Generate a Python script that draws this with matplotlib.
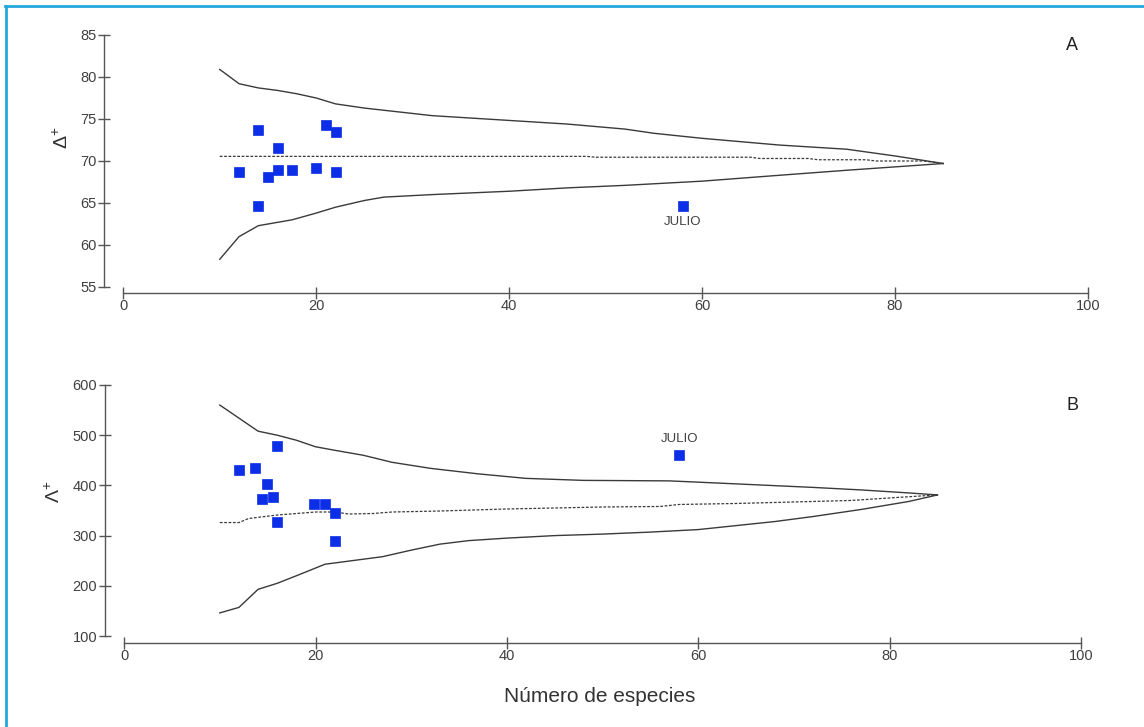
import matplotlib
matplotlib.use('Agg')
import matplotlib.pyplot as plt
from matplotlib.lines import Line2D

plt.rcParams['font.family'] = ['Liberation Sans', 'DejaVu Sans']
plt.rcParams['mathtext.fontset'] = 'custom'
plt.rcParams['mathtext.rm'] = 'Liberation Sans'
plt.rcParams['mathtext.it'] = 'Liberation Sans:italic'
plt.rcParams['mathtext.bf'] = 'Liberation Sans:bold'

# ---------------- data ----------------
x_ticks = [0, 20, 40, 60, 80, 100]
yticks_A = [55, 60, 65, 70, 75, 80, 85]
yticks_B = [100, 200, 300, 400, 500, 600]

# Panel A (Delta+)
ptsA_x = [12, 14, 14, 15, 16, 16, 17.5, 20, 21, 22, 22]
ptsA_y = [68.7, 73.7, 64.6, 68.1, 71.6, 68.9, 68.9, 69.2, 74.3, 73.5, 68.7]
julioA_x = 58
julioA_y = 64.6

upA_x = [10, 12, 14, 16, 18, 20, 22, 25, 32, 39, 46, 52, 55, 60, 68, 75, 80, 85]
upA_y = [80.9, 79.2, 78.7, 78.4, 78.0, 77.5, 76.8, 76.3, 75.4, 74.9, 74.4, 73.8, 73.3, 72.7, 71.9, 71.4, 70.6, 69.7]
loA_x = [10, 12, 14, 16, 17.5, 20, 22, 25, 27, 32, 40, 46, 52, 60, 68, 75, 80, 85]
loA_y = [58.3, 61.0, 62.3, 62.7, 63.0, 63.8, 64.5, 65.3, 65.7, 66.0, 66.4, 66.8, 67.1, 67.6, 68.3, 68.9, 69.3, 69.7]
meA_x = [10, 48, 49, 65, 66, 71, 72, 77, 78, 83, 85]
meA_y = [70.55, 70.55, 70.45, 70.45, 70.3, 70.3, 70.15, 70.15, 70.0, 70.0, 69.7]

# Panel B (Lambda+)
ptsB_x = [12, 13.7, 14.4, 14.9, 15.6, 16, 16, 19.8, 21, 22, 22]
ptsB_y = [430, 435, 372, 402, 377, 478, 327, 362, 362, 345, 290]
julioB_x = 58
julioB_y = 460

upB_x = [10, 12, 14, 16, 18, 20, 22, 25, 28, 32, 37, 42, 48, 57, 64, 72, 77, 82, 85]
upB_y = [560, 534, 508, 500, 490, 477, 470, 460, 446, 434, 423, 414, 410, 409, 403, 396, 391, 385, 381]
loB_x = [10, 12, 14, 16, 18, 21, 23, 27, 30, 33, 36, 40, 45, 50, 55, 60, 64, 68, 72, 77, 82, 85]
loB_y = [146, 157, 193, 205, 220, 243, 248, 258, 271, 283, 290, 295, 300, 303, 307, 312, 320, 328, 338, 352, 368, 381]
meB_x = [10, 12, 13, 16, 20, 22, 23.5, 26, 28, 33, 40, 50, 56, 58, 64, 68, 76, 80, 85]
meB_y = [326, 326, 334, 341, 347, 347, 343, 344, 347, 349, 353, 357, 358, 362, 364, 366, 370, 375, 381]

# ---------------- figure ----------------
W, H = 1144, 727
fig = plt.figure(figsize=(W / 100, H / 100), dpi=100)
fig.patch.set_facecolor('white')


def px_rect(l, r, t, b):
    return [l / W, 1 - b / H, (r - l) / W, (b - t) / H]


axA = fig.add_axes(px_rect(104, 1088, 35, 287))
axB = fig.add_axes(px_rect(105, 1081, 385, 636))

LINE_C = '#3a3a3a'
MARK_C = '#0c2ee6'
AX_C = '#555555'
TXT_C = '#404040'


def draw(ax, ux, uy, lx, ly, mx, my, px, py, jx, jy, joff):
    ax.plot(ux, uy, color=LINE_C, lw=1.0, clip_on=False)
    ax.plot(lx, ly, color=LINE_C, lw=1.0, clip_on=False)
    ax.plot(mx, my, color=LINE_C, lw=0.9, dashes=(2.2, 1.3), clip_on=False)
    ax.plot(px + [jx], py + [jy], ls='none', marker='s', ms=7,
            mfc=MARK_C, mec=MARK_C, mew=0.5, clip_on=False)
    ax.annotate('JULIO', (jx, jy), xytext=(0, joff), textcoords='offset points',
                ha='center', va='center', fontsize=9.5, color=TXT_C)


def style(ax, ylim, yticks, outward):
    ax.set_xlim(-2, 100)
    ax.set_ylim(*ylim)
    ax.patch.set_alpha(0)
    for s in ['top', 'right']:
        ax.spines[s].set_visible(False)
    ax.spines['bottom'].set_position(('outward', outward))
    ax.spines['bottom'].set_bounds(0, 100)
    ax.spines['left'].set_bounds(*ylim)
    for s in ['bottom', 'left']:
        ax.spines[s].set_color(AX_C)
        ax.spines[s].set_linewidth(1.0)
    ax.set_xticks(x_ticks)
    ax.set_yticks(yticks)
    ax.tick_params(direction='inout', length=8, width=1.0, color=AX_C,
                   labelsize=10.5, labelcolor=TXT_C)
    ax.tick_params(axis='x', pad=0.5)
    ax.tick_params(axis='y', pad=1.5)


draw(axA, upA_x, upA_y, loA_x, loA_y, meA_x, meA_y, ptsA_x, ptsA_y,
     julioA_x, julioA_y, -11)
style(axA, (55, 85), yticks_A, 4.3)

draw(axB, upB_x, upB_y, loB_x, loB_y, meB_x, meB_y, ptsB_x, ptsB_y,
     julioB_x, julioB_y, 12)
style(axB, (100, 600), yticks_B, 4.8)

# panel letters
fig.text(1072 / W, 1 - 46 / H, 'A', ha='center', va='center', fontsize=13, color='#202020')
fig.text(1072 / W, 1 - 405 / H, 'B', ha='center', va='center', fontsize=13, color='#202020')

# y labels
fig.text(62 / W, 1 - 138 / H, r'$\Delta^{+}$', rotation=90, ha='center', va='center',
         fontsize=14, color='#303030')
fig.text(54 / W, 1 - 492 / H, r'$\Lambda^{+}$', rotation=90, ha='center', va='center',
         fontsize=14, color='#303030')

# x label
fig.text(600 / W, 1 - 697 / H, 'Número de especies', ha='center', va='center',
         fontsize=15, color='#333333')

# frame border (top and left)
BORDER_C = '#22a8dc'
fig.add_artist(Line2D([5 / W, 1], [1 - 5.5 / H, 1 - 5.5 / H], transform=fig.transFigure,
                      color=BORDER_C, lw=2.0))
fig.add_artist(Line2D([6 / W, 6 / W], [0, 1 - 5.5 / H], transform=fig.transFigure,
                      color=BORDER_C, lw=2.0))

fig.savefig('out.png', dpi=100, facecolor='white')
